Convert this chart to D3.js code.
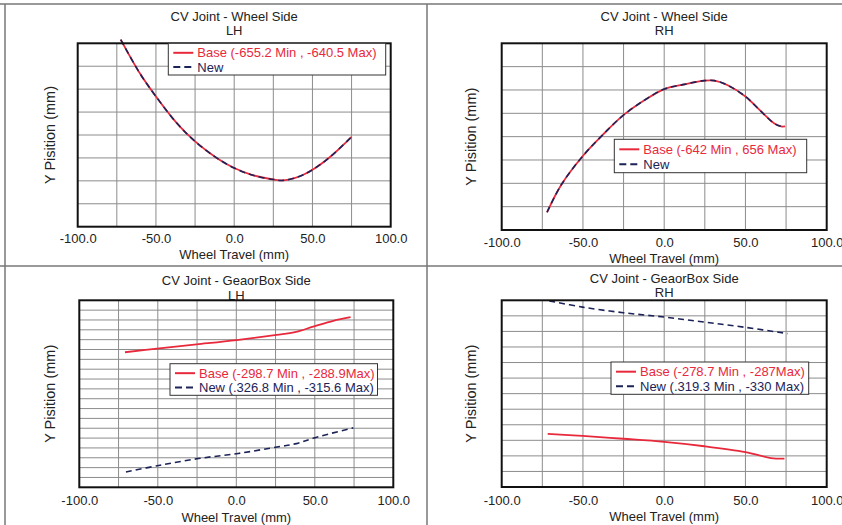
<!DOCTYPE html>
<html>
<head>
<meta charset="utf-8">
<script src="https://cdn.jsdelivr.net/npm/d3@7"></script>
<style>
  body { margin: 0; background: #fff; }
  svg { font-family: "Liberation Sans", Arial, sans-serif; }
</style>
</head>
<body>
<svg id="chart" width="842" height="525"></svg>
<script>
// x ticks shared by all four plots
const xTicks = [-100, -50, 0, 50, 100];

// CV joint wheel side, LH
const wheelLhX = [-72.5, -60.2, -50, -36.7, -25, -11.2, 0, 12.2, 25, 31.4, 42, 50, 61.2, 75];
const wheelLhBase = [-639.6, -643.3, -645.8, -648.7, -650.7, -652.5, -653.6, -654.4, -654.85, -654.95, -654.5, -653.8, -652.4, -650.2];
const wheelLhNew = [-639.6, -643.3, -645.8, -648.7, -650.7, -652.5, -653.6, -654.4, -654.85, -654.95, -654.5, -653.8, -652.4, -650.2];

// CV joint wheel side, RH
const wheelRhX = [-72.1, -63.5, -50.2, -37.8, -25.1, -12.2, 0.1, 12.4, 24.7, 30.9, 39.1, 50, 59.6, 67.8, 71.9, 74.4];
const wheelRhBase = [-656.1, -653.2, -650.1, -647.8, -645.7, -644.1, -642.9, -642.4, -642.0, -642.0, -642.5, -643.7, -645.3, -646.6, -646.9, -646.9];
const wheelRhNew = [-656.1, -653.2, -650.1, -647.8, -645.7, -644.1, -642.9, -642.4, -642.0, -642.0, -642.5, -643.7, -645.3, -646.6, -646.9, -646.9];

// CV joint gearbox side, LH
const gearLhBaseX = [-70.9, -49.0, -25.3, 0.2, 25.7, 37.4, 49.0, 61.8, 72.8];
const gearLhBase = [-296.2, -295.2, -294.2, -293.1, -291.8, -291.1, -289.7, -288.2, -287.3];
const gearLhNewX = [-70.3, -48.6, -24.2, 1.3, 26.8, 38.4, 50.1, 74.5];
const gearLhNew = [-326.6, -324.9, -323.2, -321.9, -320.2, -319.4, -317.9, -315.4];

// CV joint gearbox side, RH
const gearRhBaseX = [-71.7, -50.2, -25.1, 0.1, 24.7, 50, 65.7, 74];
const gearRhBase = [-287.1, -286.4, -285.5, -284.5, -283.1, -281.2, -279.3, -279.1];
const gearRhNewX = [-70.7, -50.2, -25.1, 0.1, 24.7, 50, 76];
const gearRhNew = [-329.8, -327.8, -326.0, -324.6, -323.0, -321.3, -319.3];

const red = "#e8293c";
const navy = "#1c2357";

const panels = [
  { title: "CV Joint - Wheel Side", side: "LH", x0: 77.7, x1: 390.7, y0: 43.3, y1: 226.7,
    yDomain: [-660, -640], yStep: 2.5, titleY: 20.7, sideY: 35, tickY: 242.7, axisY: 258.7, ylabX: 50,
    base: [wheelLhX, wheelLhBase], news: [wheelLhX, wheelLhNew],
    legend: { x: 168.3, y: 43.3, w: 217.4, h: 31.7, baseTxt: "Base (-655.2 Min , -640.5 Max)", newTxt: "New" } },
  { title: "CV Joint - Wheel Side", side: "RH", x0: 501.7, x1: 826.7, y0: 43.3, y1: 230,
    yDomain: [-658, -638], yStep: 2.5, titleY: 20.7, sideY: 35, tickY: 246.7, axisY: 262.7, ylabX: 471,
    base: [wheelRhX, wheelRhBase], news: [wheelRhX, wheelRhNew],
    legend: { x: 614.3, y: 139.3, w: 192.4, h: 33.4, baseTxt: "Base (-642 Min , 656 Max)", newTxt: "New" } },
  { title: "CV Joint - GeaorBox Side", side: "LH", x0: 79.3, x1: 393.3, y0: 300.3, y1: 487.3,
    yDomain: [-330.5, -283], yStep: 2.5, titleY: 284.7, sideY: 300, tickY: 505.3, axisY: 522, ylabX: 50,
    base: [gearLhBaseX, gearLhBase], news: [gearLhNewX, gearLhNew],
    legend: { x: 170, y: 363.7, w: 207.5, h: 31.6, baseTxt: "Base (-298.7 Min , -288.9Max)", newTxt: "New (.326.8 Min , -315.6 Max)" } },
  { title: "CV Joint - GeaorBox Side", side: "RH", x0: 501.7, x1: 826.7, y0: 300.3, y1: 487,
    yDomain: [-270, -330], yStep: 5, titleY: 282.7, sideY: 297, tickY: 504.7, axisY: 521.3, ylabX: 471,
    base: [gearRhBaseX, gearRhBase], news: [gearRhNewX, gearRhNew],
    legend: { x: 611, y: 362, w: 197.7, h: 32.3, baseTxt: "Base (-278.7 Min , -287Max)", newTxt: "New (.319.3 Min , -330 Max)" } }
];

const svg = d3.select("#chart");

// panel frame lines
svg.append("g").attr("stroke", "#777").attr("stroke-width", 1.5)
  .selectAll("line")
  .data([[0, 4, 842, 4], [5, 4, 5, 525], [0, 266, 842, 266], [427, 4, 427, 525]])
  .join("line")
  .attr("x1", d => d[0]).attr("y1", d => d[1])
  .attr("x2", d => d[2]).attr("y2", d => d[3]);

panels.forEach(function (p) {

  const x = d3.scaleLinear().domain([-100, 100]).range([p.x0, p.x1]);
  const y = d3.scaleLinear().domain(p.yDomain).range([p.y1, p.y0]);
  const g = svg.append("g");
  const cx = (p.x0 + p.x1) / 2;

  // titles
  g.append("text").attr("x", cx).attr("y", p.titleY).attr("text-anchor", "middle")
    .attr("font-size", 13).attr("fill", "#222").text(p.title);
  g.append("text").attr("x", cx).attr("y", p.sideY).attr("text-anchor", "middle")
    .attr("font-size", 13).attr("fill", "#222").text(p.side);

  // white plot area
  g.append("rect").attr("x", p.x0).attr("y", p.y0)
    .attr("width", p.x1 - p.x0).attr("height", p.y1 - p.y0).attr("fill", "#fff");

  // grid
  const xGrid = d3.range(-75, 100, 25);
  g.append("g").selectAll("line").data(xGrid).join("line")
    .attr("x1", d => x(d)).attr("x2", d => x(d))
    .attr("y1", p.y0).attr("y2", p.y1)
    .attr("stroke", "#8c8c8c").attr("stroke-width", 1);

  const lo = Math.min(p.yDomain[0], p.yDomain[1]);
  const hi = Math.max(p.yDomain[0], p.yDomain[1]);
  const yGrid = d3.range(lo + p.yStep, hi - p.yStep / 2, p.yStep);
  g.append("g").selectAll("line").data(yGrid).join("line")
    .attr("x1", p.x0).attr("x2", p.x1)
    .attr("y1", d => y(d)).attr("y2", d => y(d))
    .attr("stroke", "#8c8c8c").attr("stroke-width", 1);

  // x axis labels (plain hyphen as minus, like the original)
  const axis = d3.axisBottom(x).tickValues(xTicks).tickSize(0)
    .tickFormat(d => d.toFixed(1));
  const ax = g.append("g").attr("transform", "translate(0," + p.y1 + ")").call(axis);
  ax.select(".domain").remove();
  ax.selectAll("text").attr("y", p.tickY - p.y1).attr("dy", 0)
    .attr("font-size", 13).attr("fill", "#222")
    .attr("font-family", "Liberation Sans, Arial, sans-serif");

  g.append("text").attr("x", cx).attr("y", p.axisY).attr("text-anchor", "middle")
    .attr("font-size", 13).attr("fill", "#222").text("Wheel Travel (mm)");

  g.append("text")
    .attr("transform", "translate(" + p.ylabX + "," + ((p.y0 + p.y1) / 2) + ") rotate(-90)")
    .attr("text-anchor", "middle").attr("dy", "0.35em")
    .attr("font-size", 14.5).attr("fill", "#222").text("Y Pisition (mm)");

  // lines
  const line = d3.line().curve(d3.curveCatmullRom)
    .x(d => x(d[0])).y(d => y(d[1]));

  g.append("path").datum(d3.zip(p.base[0], p.base[1]))
    .attr("d", line).attr("fill", "none")
    .attr("stroke", red).attr("stroke-width", 1.8);

  g.append("path").datum(d3.zip(p.news[0], p.news[1]))
    .attr("d", line).attr("fill", "none")
    .attr("stroke", navy).attr("stroke-width", 1.6)
    .attr("stroke-dasharray", "6,4");

  // plot border
  g.append("rect").attr("x", p.x0).attr("y", p.y0)
    .attr("width", p.x1 - p.x0).attr("height", p.y1 - p.y0)
    .attr("fill", "none").attr("stroke", "#111").attr("stroke-width", 2);

  // legend
  const L = p.legend;
  const lg = g.append("g");
  lg.append("rect").attr("x", L.x).attr("y", L.y).attr("width", L.w).attr("height", L.h)
    .attr("fill", "#fff").attr("stroke", "#333").attr("stroke-width", 1);
  const r1 = L.y + L.h * 0.3;
  const r2 = L.y + L.h * 0.75;
  lg.append("line").attr("x1", L.x + 5).attr("x2", L.x + 25).attr("y1", r1).attr("y2", r1)
    .attr("stroke", red).attr("stroke-width", 2);
  lg.append("line").attr("x1", L.x + 5).attr("x2", L.x + 25).attr("y1", r2).attr("y2", r2)
    .attr("stroke", navy).attr("stroke-width", 2).attr("stroke-dasharray", "7,4");
  lg.append("text").attr("x", L.x + 29).attr("y", r1).attr("dy", "0.35em")
    .attr("font-size", 13).attr("fill", red).text(L.baseTxt);
  lg.append("text").attr("x", L.x + 29).attr("y", r2).attr("dy", "0.35em")
    .attr("font-size", 13).attr("fill", navy).text(L.newTxt);

});
</script>
</body>
</html>
